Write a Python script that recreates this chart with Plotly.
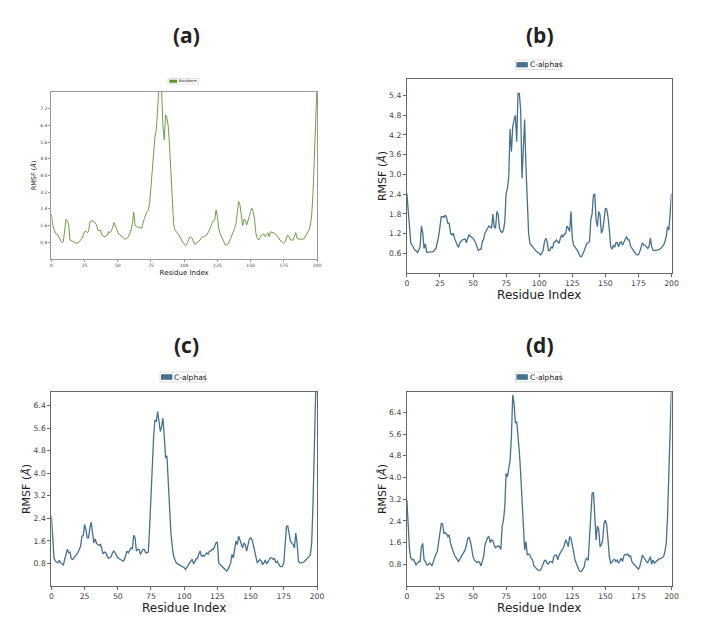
import plotly.graph_objects as go

# ---------------- data ----------------
xa = [0,1,3,5,7,8,9,11,12,13,14,15,17,19,21,23,25,26,27,28,29,30,32,34,35,36,37,38,40,42,43,44,45,46,47,48,49,50,52,54,55,56,57,58,60,61,62,63,64,66,68,69,70,72,73,74,75,76,77,78,79,80,81,82,83,84,85,86,87,88,89,90,91,92,93,94,96,98,99,100,101,102,103,104,105,106,107,108,109,110,111,112,113,115,117,119,121,123,124,125,126,127,129,130,131,132,133,135,137,138,139,140,141,142,143,144,145,146,147,148,149,150,151,152,153,154,155,156,157,158,160,161,162,163,164,165,166,168,170,172,174,175,176,178,179,180,182,183,184,185,187,190,192,194,195,196,197,198,199,200]
ya = [2.16,1.63,1.23,1.15,0.86,0.80,0.83,1.90,1.84,1.63,0.91,0.88,0.83,0.75,0.83,0.99,1.31,1.34,1.26,1.31,1.79,1.82,1.81,1.63,1.39,1.36,1.39,1.15,1.07,1.12,1.31,1.26,1.34,1.47,1.74,1.63,1.47,1.26,1.15,1.02,0.96,0.96,0.99,1.07,1.39,1.71,2.24,1.63,1.55,1.52,1.47,1.71,1.95,2.27,2.35,2.67,3.47,4.43,4.83,5.87,6.19,7.47,8.9,9.2,8.1,6.35,5.71,6.91,6.75,6.35,5.39,4.11,2.83,1.71,1.39,1.31,1.15,0.91,0.80,0.72,0.64,0.72,0.91,1.04,1.04,0.99,0.83,0.70,0.75,0.83,0.86,0.91,1.04,1.07,1.15,1.39,1.71,1.90,2.35,2.03,1.47,1.23,0.91,0.78,0.67,0.67,0.72,0.99,1.26,1.47,1.71,2.19,2.75,2.59,2.03,1.60,1.90,1.87,1.63,1.79,2.03,2.27,2.43,2.27,1.87,1.23,0.99,0.91,0.99,1.12,1.20,1.07,1.17,1.26,1.07,1.30,1.28,1.23,1.12,0.91,0.80,0.75,0.83,1.15,1.07,0.91,0.91,1.07,1.26,0.99,0.94,0.96,1.15,1.39,1.63,2.11,3.15,4.75,6.67,8.3]

xb = [0,1,2,3,4,5,6,7,8,9,10,11,12,13,14,15,16,18,20,22,24,25,26,27,28,29,30,31,32,33,34,35,36,38,39,40,42,44,45,46,47,48,50,52,53,54,55,56,57,58,59,60,61,62,63,64,65,66,67,68,69,70,71,72,73,74,75,76,77,78,79,80,81,82,83,84,85,86,87,88,89,90,91,92,93,94,96,98,100,101,102,103,104,105,106,107,108,109,110,111,112,113,114,115,116,117,118,119,120,121,122,123,124,125,126,127,129,131,132,133,134,135,136,137,138,139,140,141,142,143,144,145,146,147,148,149,150,151,152,153,154,155,156,157,158,159,160,161,162,163,164,165,166,167,168,169,170,171,172,173,174,175,176,177,178,179,180,181,182,183,184,185,186,187,188,190,192,194,195,196,197,198,199,200]
yb = [2.42,1.82,1.21,0.90,0.85,0.75,0.70,0.68,0.62,0.70,0.80,1.43,1.21,0.75,0.88,0.63,0.63,0.64,0.65,0.75,1.11,1.41,1.71,1.71,1.69,1.76,1.69,1.51,1.51,1.21,1.16,1.21,1.06,0.85,0.78,0.92,1.01,1.03,0.92,1.06,1.16,1.11,1.06,0.92,0.82,0.68,0.72,0.72,0.95,1.03,1.21,1.31,1.36,1.43,1.39,1.36,1.79,1.41,1.36,1.87,1.79,1.36,1.26,1.23,1.31,1.56,2.42,2.57,2.93,4.38,3.69,4.45,4.65,4.80,3.99,5.46,5.46,4.95,2.88,3.64,4.67,3.23,2.22,1.21,0.90,0.85,0.75,0.65,0.60,0.55,0.60,0.70,0.95,1.06,0.95,0.68,0.68,0.80,0.75,0.92,0.95,1.01,0.95,0.90,1.06,1.16,1.09,1.19,1.19,1.43,1.36,1.26,1.87,1.06,0.85,0.80,0.68,0.50,0.50,0.58,0.70,0.75,0.90,0.92,0.95,1.61,1.82,2.37,2.40,1.61,1.41,1.87,1.76,1.21,1.31,1.61,1.97,1.94,1.71,1.31,0.80,0.72,0.85,0.78,0.92,0.92,0.80,0.92,0.95,0.85,0.95,1.06,1.11,1.01,1.01,0.82,0.75,0.72,0.62,0.58,0.55,0.55,0.65,0.80,0.92,0.85,0.85,0.80,0.75,0.80,1.06,0.80,0.70,0.68,0.68,0.70,0.75,0.85,0.95,1.11,1.41,1.31,1.82,2.42]

xc = [0,1,2,3,4,5,6,7,8,9,10,11,12,13,14,15,16,17,18,19,20,21,22,23,24,25,26,27,28,29,30,31,32,33,34,35,36,37,38,39,40,41,42,43,44,45,46,47,48,49,50,52,54,55,56,57,58,59,60,61,62,63,64,65,66,67,68,69,70,71,72,73,74,75,76,77,78,79,80,81,82,83,84,85,86,87,88,89,90,91,92,93,94,96,98,100,101,102,103,104,105,106,107,108,109,110,111,112,113,114,115,116,117,118,119,120,121,122,123,124,125,126,127,128,129,130,131,132,133,134,135,136,137,138,139,140,141,142,143,144,145,146,147,148,149,150,151,152,153,154,155,156,157,158,159,160,161,162,163,164,165,166,167,168,169,170,171,172,173,174,175,176,177,178,179,180,181,182,183,184,185,186,187,188,190,192,194,195,196,197,198,199,200]
yc = [2.47,1.53,1.00,0.88,0.86,0.82,0.91,0.82,0.79,0.73,0.94,1.12,1.30,1.18,1.20,0.97,0.94,1.00,1.06,1.08,1.18,1.30,1.41,1.77,1.79,2.18,2.00,1.71,1.71,2.06,2.26,1.88,1.53,1.67,1.51,1.47,1.44,1.47,1.24,1.14,1.20,1.18,1.06,0.98,1.00,1.04,1.18,1.24,1.18,1.06,1.00,0.94,0.88,0.94,1.06,1.24,1.18,1.30,1.35,1.33,1.80,1.71,1.24,1.30,1.30,1.12,1.24,1.30,1.30,1.18,1.18,1.20,2.12,3.18,4.36,5.30,5.89,5.83,6.19,5.72,5.48,5.66,5.95,5.30,4.54,4.62,3.53,2.71,1.88,1.41,1.06,0.94,0.82,0.76,0.71,0.65,0.59,0.65,0.73,0.82,0.88,0.94,0.80,0.85,0.97,0.97,1.14,1.24,1.06,1.08,1.06,1.12,1.18,1.12,1.24,1.24,1.30,1.30,1.41,1.53,1.55,0.82,0.76,0.71,0.67,0.61,0.55,0.53,0.59,0.71,0.82,1.12,1.00,1.30,1.59,1.47,1.77,1.63,1.47,1.35,1.53,1.47,1.24,1.41,1.65,1.71,1.65,1.47,1.24,0.94,0.82,0.88,0.94,0.88,0.76,0.82,0.92,0.80,0.85,0.94,1.00,1.00,0.94,0.97,0.82,0.88,0.76,0.71,0.68,0.71,0.82,1.65,2.12,2.12,1.83,1.59,1.53,1.47,1.35,1.88,1.53,0.88,0.82,0.82,0.85,0.94,1.04,1.12,1.53,2.95,5.30,6.87,7.60]

xd = [0,1,2,3,4,5,6,7,8,9,10,11,12,13,14,15,16,17,18,19,20,21,22,23,24,25,26,27,28,29,30,31,32,33,34,35,36,37,38,39,40,41,42,43,44,45,46,47,48,49,50,51,52,53,54,55,56,57,58,59,60,61,62,63,64,65,66,67,68,69,70,71,72,73,74,75,76,77,78,79,80,81,82,83,84,85,86,87,88,89,90,91,92,93,94,95,96,97,98,99,100,101,102,103,104,105,106,107,108,109,110,111,112,113,114,115,116,117,118,119,120,121,122,123,124,125,126,127,128,129,130,131,132,133,134,135,136,137,138,139,140,141,142,143,144,145,146,147,148,149,150,151,152,153,154,155,156,157,158,159,160,161,162,163,164,165,166,167,168,169,170,171,172,173,174,175,176,177,178,179,180,181,182,183,184,185,186,187,188,189,190,192,194,195,196,197,198,199,200]
yd = [3.17,2.19,1.33,1.02,0.96,0.98,0.90,0.78,0.84,0.90,0.90,1.45,1.57,0.96,0.90,0.78,0.78,0.84,0.80,0.74,0.90,1.08,1.18,1.27,1.57,1.94,2.31,2.29,1.94,1.97,1.92,1.82,1.88,1.57,1.39,1.27,1.14,1.08,0.98,0.90,0.98,1.06,1.14,1.21,1.33,1.51,1.76,1.79,1.64,1.39,1.08,0.96,0.90,0.86,0.90,0.87,0.74,0.90,1.08,1.51,1.70,1.79,1.82,1.60,1.70,1.67,1.51,1.41,1.45,1.48,1.45,1.35,2.19,2.43,2.92,4.15,4.03,4.34,4.64,5.50,7.04,6.73,6.00,6.06,5.56,4.95,4.15,3.29,2.31,1.33,1.64,1.14,1.18,1.14,1.02,0.96,0.74,0.68,0.62,0.59,0.57,0.59,0.69,0.81,0.94,0.94,0.84,0.81,0.90,0.90,0.86,1.08,1.14,1.14,0.96,1.14,1.23,1.27,1.39,1.51,1.70,1.60,1.45,1.82,1.76,1.51,1.23,0.98,0.84,0.71,0.59,0.54,0.54,0.62,0.71,0.96,1.02,0.94,1.70,2.56,3.42,3.44,2.56,1.70,2.21,2.09,1.45,1.51,1.70,2.31,2.43,2.25,1.70,1.08,0.84,0.87,0.96,0.98,0.90,0.96,0.84,0.94,1.02,0.90,1.11,1.17,1.14,1.18,1.08,1.13,0.90,0.84,0.78,0.71,0.65,0.62,0.71,0.90,1.14,1.06,0.96,0.90,0.86,0.96,1.08,0.81,0.96,0.84,0.90,0.96,0.98,1.02,1.08,1.27,1.57,2.56,4.28,6.12,7.40]

panel_titles = ["(a)", "(b)", "(c)", "(d)"]
legend_names = ["Backbone", "C-alphas", "C-alphas", "C-alphas"]
x_ticks = [0, 25, 50, 75, 100, 125, 150, 175, 200]
ticks_a = [0.8, 1.6, 2.4, 3.2, 4.0, 4.8, 5.6, 6.4, 7.2]
ticks_b = [0.6, 1.2, 1.8, 2.4, 3.0, 3.6, 4.2, 4.8, 5.4]
ticks_c = [0.8, 1.6, 2.4, 3.2, 4.0, 4.8, 5.6, 6.4]
ticks_d = [0.8, 1.6, 2.4, 3.2, 4.0, 4.8, 5.6, 6.4]

# ---------------- layout helpers ----------------
W, H = 720, 627
GREEN = "#5e9332"
BLUE = "#45718f"

def px(x):
    return x / W

def py(y):
    return 1 - y / H

# plot boxes in pixel coordinates (left, right, top, bottom)
boxes = [(50, 319, 92, 259), (410, 678, 79, 273), (50, 319, 392, 586), (410, 678, 392, 586)]
yranges = [[0, 8.0], [0, 5.9], [0, 6.88], [0, 7.15]]
yticks = [ticks_a, ticks_b, ticks_c, ticks_d]
series = [(xa, ya, GREEN), (xb, yb, BLUE), (xc, yc, BLUE), (xd, yd, BLUE)]

fig = go.Figure()
for i, (xs, ys, col) in enumerate(series):
    sfx = "" if i == 0 else str(i + 1)
    fig.add_trace(go.Scatter(x=xs, y=ys, mode="lines", name=legend_names[i],
                             line=dict(color=col, width=0.9 if i == 0 else 1.3),
                             xaxis="x" + sfx, yaxis="y" + sfx, showlegend=False,
                             hoverinfo="skip"))

layout = dict(width=W, height=H, margin=dict(l=0, r=0, t=0, b=0),
              paper_bgcolor="white", plot_bgcolor="white", showlegend=False,
              font=dict(family="DejaVu Sans", color="#333"))

annotations = []
shapes = []
for i, (l, r, t, b) in enumerate(boxes):
    sfx = "" if i == 0 else str(i + 1)
    small = (i == 0)
    tfs = 4.5 if small else 7.7
    lfs = 7 if small else 12
    lc = "#999" if small else "#666"
    layout["xaxis" + sfx] = dict(
        domain=[px(l), px(r)], anchor="y" + sfx, range=[0, 200],
        tickvals=x_ticks, ticks="outside", ticklen=2 if small else 3,
        tickcolor=lc, showline=True, linecolor=lc, linewidth=1, mirror=True,
        showgrid=False, zeroline=False, tickfont=dict(size=tfs, color="#444"),
        title=dict(text="Residue Index", font=dict(size=lfs, color="#222"),
                   standoff=2 if small else 2))
    layout["yaxis" + sfx] = dict(
        domain=[py(b), py(t)], anchor="x" + sfx, range=yranges[i],
        tickvals=yticks[i], tickformat=".1f", ticks="outside",
        ticklen=2 if small else 3, tickcolor=lc, showline=True, linecolor=lc,
        linewidth=1, mirror=True, showgrid=False, zeroline=False,
        tickfont=dict(size=tfs, color="#444"),
        title=dict(text="RMSF (<i>Å</i>)", font=dict(size=6.5 if small else 11, color="#222"),
                   standoff=3 if small else 0))
    ty = 35 if i < 2 else 345
    annotations.append(dict(text="<b>%s</b>" % panel_titles[i], x=px(187 if i % 2 == 0 else 545),
                            y=py(ty), xref="paper", yref="paper", showarrow=False,
                            xanchor="center", yanchor="middle",
                            font=dict(family="Open Sans", size=21, color="#222")))

# legends (patch + label + frame), positioned in pixel coordinates
legend_boxes = [
    # frame l, r, t, b ; patch l, r ; font size ; colour
    (168, 199, 78.5, 84, 169.5, 177.5, 3.6, GREEN),
    (520, 566, 60, 69.5, 521, 532.5, 7.5, BLUE),
    (160, 206, 372, 382, 161, 172.5, 7.5, BLUE),
    (520, 566, 372, 382, 521, 532.5, 7.5, BLUE),
]
for i, (fl, fr, ft, fb, pl, pr, fs, col) in enumerate(legend_boxes):
    shapes.append(dict(type="rect", xref="paper", yref="paper", x0=px(fl), x1=px(fr),
                       y0=py(fb), y1=py(ft), line=dict(color="#d5d5d5", width=0.8),
                       fillcolor="white", layer="above"))
    pad = (fb - ft) * 0.22
    shapes.append(dict(type="rect", xref="paper", yref="paper", x0=px(pl), x1=px(pr),
                       y0=py(fb - pad), y1=py(ft + pad), line=dict(width=0),
                       fillcolor=col, layer="above"))
    annotations.append(dict(text=legend_names[i], x=px(pr), y=py((ft + fb) / 2),
                            xref="paper", yref="paper", showarrow=False,
                            xanchor="left", yanchor="middle",
                            font=dict(size=fs, color="#111")))

layout["annotations"] = annotations
layout["shapes"] = shapes
fig.update_layout(**layout)
fig.write_html("out.html")
